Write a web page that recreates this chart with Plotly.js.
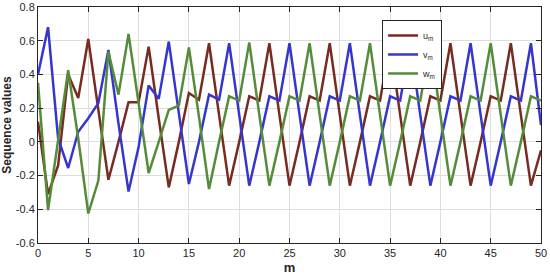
<!DOCTYPE html>
<html>
<head>
<meta charset="utf-8">
<script src="https://cdn.plot.ly/plotly-3.0.1.min.js"></script>
<style>
  html, body { margin: 0; padding: 0; background: #fff; }
  #myDiv { width: 550px; height: 278px; }
</style>
</head>
<body>
<div id="myDiv"></div>
<script>
// Índices m y valores de las tres secuencias
let m = Array.from({length: 51}, (_, i) => i);

let u = [0.12, -0.31, -0.14, 0.40, 0.26, 0.61, 0.19, -0.225, 0.0, 0.235,
         0.235, 0.565, 0.14, -0.27, 0.0, 0.29, 0.25, 0.585, 0.16, -0.26,
         0.0, 0.27, 0.245, 0.585, 0.16, -0.26, 0.0, 0.27, 0.245, 0.585,
         0.16, -0.26, 0.0, 0.27, 0.245, 0.585, 0.16, -0.26, 0.0, 0.27,
         0.245, 0.585, 0.16, -0.26, 0.0, 0.27, 0.245, 0.585, 0.16, -0.26,
         -0.05];

let v = [0.40, 0.68, 0.02, -0.155, 0.06, 0.14, 0.23, 0.545, 0.11, -0.295,
         -0.03, 0.335, 0.255, 0.595, 0.17, -0.25, 0.0, 0.28, 0.25, 0.585,
         0.16, -0.26, 0.0, 0.27, 0.245, 0.585, 0.16, -0.26, 0.0, 0.27,
         0.245, 0.585, 0.16, -0.26, 0.0, 0.27, 0.245, 0.585, 0.16, -0.26,
         0.0, 0.27, 0.245, 0.585, 0.16, -0.26, 0.0, 0.27, 0.245, 0.585,
         0.10];

let w = [0.35, -0.405, 0.01, 0.425, 0.02, -0.425, -0.23, 0.535, 0.28, 0.64,
         0.23, -0.185, 0.0, 0.19, 0.215, 0.56, 0.15, -0.28, 0.0, 0.27,
         0.245, 0.59, 0.16, -0.26, 0.0, 0.27, 0.245, 0.585, 0.16, -0.26,
         0.0, 0.27, 0.245, 0.585, 0.16, -0.26, 0.0, 0.27, 0.245, 0.585,
         0.16, -0.26, 0.0, 0.27, 0.245, 0.585, 0.16, -0.26, 0.0, 0.27,
         0.245];

let xTicks = [0, 5, 10, 15, 20, 25, 30, 35, 40, 45, 50];
let yTicks = [-0.6, -0.4, -0.2, 0, 0.2, 0.4, 0.6, 0.8];
let yTickText = ['-0.6', '-0.4', '-0.2', '0', '0.2', '0.4', '0.6', '0.8'];

let names = ['u<sub>m</sub>', 'v<sub>m</sub>', 'w<sub>m</sub>'];
let colors = ['#772c22', '#3636cf', '#558c3a'];

let traces = [u, v, w].map((y, k) => ({
    x: m,
    y: y,
    mode: 'lines',
    type: 'scatter',
    name: names[k],
    line: { color: colors[k], width: 2.5 },
    hoverinfo: 'none'
}));

let layout = {
    width: 550,
    height: 278,
    margin: { l: 38, r: 9, t: 7, b: 35 },
    paper_bgcolor: '#fff',
    plot_bgcolor: '#fff',
    font: { family: 'Liberation Sans, Arial, sans-serif', size: 11, color: '#262626' },
    xaxis: {
        range: [0, 50],
        tickvals: xTicks,
        ticks: 'inside',
        ticklen: 5,
        tickcolor: '#262626',
        showline: true,
        linecolor: '#262626',
        linewidth: 1,
        mirror: 'ticks',
        showgrid: true,
        gridcolor: '#dedede',
        zeroline: false,
        title: { text: '<b>m</b>', font: { size: 13, color: '#262626' }, standoff: 4 }
    },
    yaxis: {
        range: [-0.6, 0.8],
        tickvals: yTicks,
        ticktext: yTickText,
        ticks: 'inside',
        ticklen: 5,
        tickcolor: '#262626',
        showline: true,
        linecolor: '#262626',
        linewidth: 1,
        mirror: 'ticks',
        showgrid: true,
        gridcolor: '#dedede',
        zeroline: false,
        title: { text: '<b>Sequence values</b>', font: { size: 12, color: '#262626' }, standoff: 4 }
    },
    legend: {
        x: 0.684,
        y: 0.945,
        xanchor: 'left',
        yanchor: 'top',
        bgcolor: '#fff',
        bordercolor: '#262626',
        borderwidth: 1,
        font: { size: 9, color: '#262626' },
        itemwidth: 30,
        tracegroupgap: 0
    },
    showlegend: true
};

Plotly.newPlot('myDiv', traces, layout, { displayModeBar: false, staticPlot: true });
</script>
</body>
</html>
